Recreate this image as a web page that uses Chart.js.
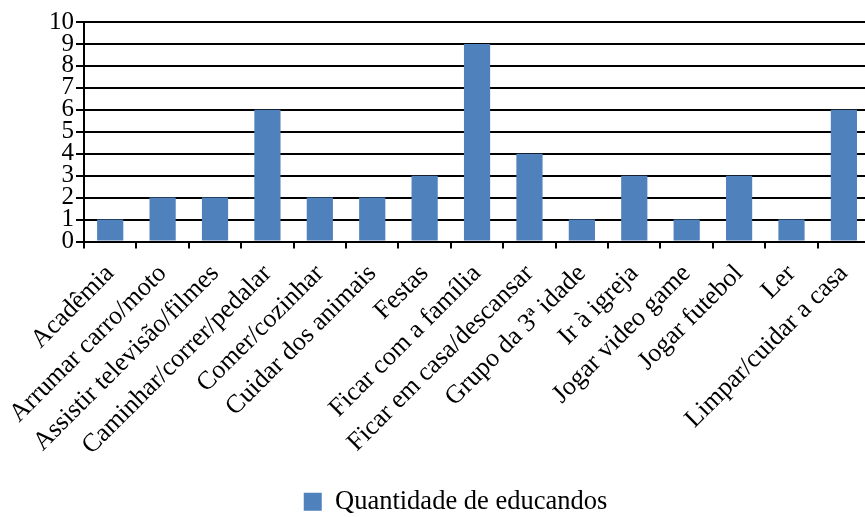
<!DOCTYPE html>
<html lang="pt">
<head>
    <meta charset="UTF-8">
    <title>Quantidade de educandos</title>
    <script src="https://cdn.jsdelivr.net/npm/chart.js"></script>
    <style>
        html, body { margin: 0; padding: 0; overflow: hidden; background: #fff; }
    </style>
</head>
<body>
    <!-- canvas a bit bigger than the window: the plot runs off the right edge and the legend sits low, like the original -->
    <canvas id="atividadesChart" width="876" height="525"></canvas>

    <script>
        const categorias = [
            'Acadêmia', 'Arrumar carro/moto', 'Assistir televisão/filmes',
            'Caminhar/correr/pedalar', 'Comer/cozinhar', 'Cuidar dos animais',
            'Festas', 'Ficar com a família', 'Ficar em casa/descansar',
            'Grupo da 3ª idade', 'Ir à igreja', 'Jogar video game',
            'Jogar futebol', 'Ler', 'Limpar/cuidar a casa'
        ];
        const quantidades = [1, 2, 2, 6, 2, 2, 3, 9, 4, 1, 3, 1, 3, 1, 6];
        const serieNome = 'Quantidade de educandos';

        const fonte = "'Liberation Serif', 'Times New Roman', serif";

        const ctx = document.getElementById('atividadesChart').getContext('2d');
        const chart = new Chart(ctx, {
            type: 'bar',
            data: {
                labels: categorias,
                datasets: [{
                    label: serieNome,
                    data: quantidades,
                    backgroundColor: '#4F81BD',
                    categoryPercentage: 1.0,
                    barPercentage: 0.5
                }]
            },
            options: {
                responsive: false,
                animation: false,
                layout: { padding: { top: 22, right: 1, left: 36, bottom: 0 } },
                plugins: {
                    legend: {
                        position: 'bottom',
                        labels: {
                            color: '#000',
                            boxWidth: 18,
                            boxHeight: 18,
                            padding: 2,
                            font: { family: fonte, size: 26.5 }
                        }
                    },
                    tooltip: { enabled: false }
                },
                scales: {
                    x: {
                        grid: {
                            offset: true,
                            drawOnChartArea: false,
                            color: '#000',
                            lineWidth: 2,
                            tickLength: 7
                        },
                        border: { color: '#000', width: 2 },
                        ticks: {
                            color: '#000',
                            minRotation: 45,
                            maxRotation: 45,
                            autoSkip: false,
                            padding: 10,
                            font: { family: fonte, size: 26 }
                        },
                        afterFit: function (scale) { scale.height = 245; }
                    },
                    y: {
                        min: 0,
                        max: 10,
                        grid: {
                            color: '#000',
                            lineWidth: 2,
                            tickLength: 8
                        },
                        border: { color: '#000', width: 2 },
                        ticks: {
                            stepSize: 1,
                            autoSkip: false,
                            color: '#000',
                            padding: 2,
                            font: { family: fonte, size: 25 }
                        },
                        afterFit: function (scale) { scale.width = 48; }
                    }
                }
            }
        });
    </script>
</body>
</html>
